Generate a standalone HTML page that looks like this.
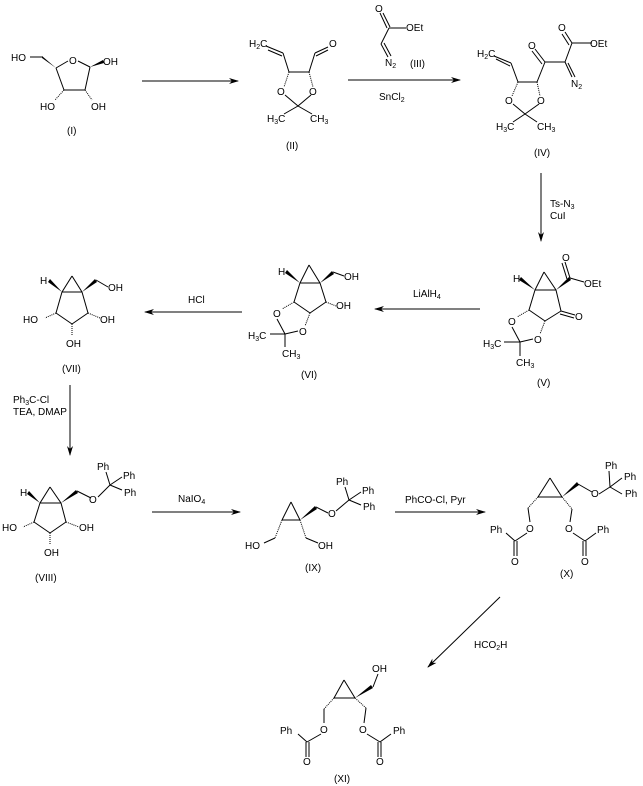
<!DOCTYPE html>
<html><head><meta charset="utf-8"><style>
html,body{margin:0;padding:0;background:#fff;}
svg{display:block;}
text{font-family:"Liberation Sans",sans-serif;font-size:10px;fill:#000;}
.s{font-size:7px;}
line,polyline,path{stroke:#000;stroke-width:1;fill:none;}
.w{fill:#000;stroke:none;}
</style></head><body>
<svg width="643" height="786" viewBox="0 0 643 786" xmlns="http://www.w3.org/2000/svg">
<defs><marker id="a" markerWidth="10" markerHeight="6" refX="9" refY="3" orient="auto" markerUnits="userSpaceOnUse"><path d="M0,0 L10,3 L0,6 L3,3 Z" class="w"/></marker></defs>

<!-- I -->
<text x="11" y="61">HO</text>
<line x1="30" y1="57" x2="42" y2="57"/>
<polygon class="w" points="42,56 42,58 56,68"/>
<line x1="56" y1="68" x2="68" y2="61"/>
<text x="69" y="64">O</text>
<line x1="78" y1="61" x2="90" y2="67"/>
<polygon class="w" points="90,67 103,60 104,63"/>
<text x="103" y="65">OH</text>
<line x1="56" y1="68" x2="64" y2="90"/>
<line x1="90" y1="67" x2="85" y2="90"/>
<line x1="64" y1="90" x2="85" y2="90"/>
<line x1="64" y1="90" x2="55" y2="100" stroke-dasharray="1,1"/>
<line x1="85" y1="90" x2="92" y2="100" stroke-dasharray="1,1"/>
<text x="40" y="110">HO</text>
<text x="91" y="110">OH</text>
<text x="67" y="134">(I)</text>
<line x1="142" y1="81" x2="238" y2="81" marker-end="url(#a)"/>

<!-- II -->
<text x="249" y="47">H<tspan class="s" dy="2">2</tspan><tspan dy="-2">C</tspan></text>
<line x1="266" y1="46" x2="283" y2="53"/><line x1="268" y1="50" x2="282" y2="56"/>
<line x1="283" y1="53" x2="289" y2="72"/>
<line x1="289" y1="72" x2="309" y2="72"/>
<line x1="309" y1="72" x2="315" y2="53"/>
<line x1="315" y1="53" x2="328" y2="47"/><line x1="316" y1="56" x2="328" y2="50"/>
<text x="329" y="47">O</text>
<line x1="289" y1="72" x2="284" y2="87" stroke-dasharray="1,1"/>
<line x1="309" y1="72" x2="313" y2="87" stroke-dasharray="1,1"/>
<text x="277" y="95">O</text><text x="309" y="95">O</text>
<line x1="285" y1="95" x2="298" y2="106"/><line x1="311" y1="95" x2="298" y2="106"/>
<line x1="298" y1="106" x2="284" y2="114"/><line x1="298" y1="106" x2="312" y2="114"/>
<text x="267" y="122">H<tspan class="s" dy="2">3</tspan><tspan dy="-2">C</tspan></text>
<text x="310" y="122">CH<tspan class="s" dy="2">3</tspan></text>
<text x="286" y="149">(II)</text>

<!-- III reagent -->
<text x="375" y="12">O</text>
<line x1="380" y1="13" x2="387" y2="28"/><line x1="383" y1="13" x2="390" y2="27"/>
<line x1="389" y1="28" x2="406" y2="28"/>
<text x="406" y="31">OEt</text>
<line x1="389" y1="28" x2="381" y2="44"/>
<line x1="381" y1="44" x2="388" y2="57"/><line x1="384" y1="43" x2="391" y2="56"/>
<text x="385" y="66">N<tspan class="s" dy="2">2</tspan></text>
<text x="410" y="67">(III)</text>
<line x1="348" y1="80" x2="460" y2="80" marker-end="url(#a)"/>
<text x="379" y="100">SnCl<tspan class="s" dy="2">2</tspan></text>

<!-- IV -->
<text x="477" y="57">H<tspan class="s" dy="2">2</tspan><tspan dy="-2">C</tspan></text>
<line x1="494" y1="56" x2="511" y2="63"/><line x1="496" y1="59" x2="510" y2="66"/>
<line x1="511" y1="63" x2="518" y2="82"/>
<line x1="518" y1="82" x2="537" y2="82"/>
<line x1="537" y1="82" x2="545" y2="62"/>
<line x1="545" y1="62" x2="565" y2="62"/>
<line x1="545" y1="62" x2="535" y2="49"/><line x1="542" y1="64" x2="532" y2="51"/>
<text x="528" y="49">O</text>
<line x1="565" y1="62" x2="572" y2="43"/>
<line x1="572" y1="43" x2="592" y2="43"/>
<text x="590" y="47">OEt</text>
<line x1="572" y1="43" x2="565" y2="32"/><line x1="569" y1="45" x2="562" y2="34"/>
<text x="558" y="31">O</text>
<line x1="565" y1="62" x2="572" y2="77"/><line x1="568" y1="63" x2="575" y2="77"/>
<text x="571" y="87">N<tspan class="s" dy="2">2</tspan></text>
<line x1="518" y1="82" x2="512" y2="96" stroke-dasharray="1,1"/>
<line x1="537" y1="82" x2="540" y2="96" stroke-dasharray="1,1"/>
<text x="505" y="104">O</text><text x="537" y="104">O</text>
<line x1="513" y1="104" x2="525" y2="114"/><line x1="539" y1="104" x2="525" y2="114"/>
<line x1="525" y1="114" x2="513" y2="122"/><line x1="525" y1="114" x2="537" y2="122"/>
<text x="496" y="130">H<tspan class="s" dy="2">3</tspan><tspan dy="-2">C</tspan></text>
<text x="537" y="130">CH<tspan class="s" dy="2">3</tspan></text>
<text x="534" y="156">(IV)</text>
<line x1="541" y1="173" x2="541" y2="241" marker-end="url(#a)"/>
<text x="550" y="207">Ts-N<tspan class="s" dy="2">3</tspan></text>
<text x="550" y="219">CuI</text>

<!-- V -->
<line x1="544" y1="272" x2="535" y2="290"/><line x1="544" y1="272" x2="556" y2="290"/><line x1="535" y1="290" x2="556" y2="290"/>
<polygon class="w" points="535,290 519,280 521,277"/>
<text x="513" y="282">H</text>
<polygon class="w" points="556,290 569,277 571,280"/>
<line x1="570" y1="278" x2="565" y2="262"/><line x1="567" y1="279" x2="562" y2="263"/>
<text x="562" y="261">O</text>
<line x1="570" y1="278" x2="584" y2="282"/>
<text x="584" y="287">OEt</text>
<line x1="535" y1="290" x2="529" y2="310"/><line x1="556" y1="290" x2="561" y2="311"/>
<line x1="529" y1="310" x2="545" y2="321"/><line x1="561" y1="311" x2="545" y2="321"/>
<line x1="561" y1="311" x2="575" y2="315"/><line x1="560" y1="314" x2="574" y2="318"/>
<text x="575" y="320">O</text>
<line x1="529" y1="310" x2="517" y2="317" stroke-dasharray="1,1"/>
<line x1="545" y1="321" x2="540" y2="334" stroke-dasharray="1,1"/>
<text x="508" y="325">O</text><text x="534" y="343">O</text>
<line x1="512" y1="327" x2="520" y2="342"/><line x1="533" y1="339" x2="520" y2="342"/>
<line x1="520" y1="342" x2="504" y2="342"/><line x1="520" y1="342" x2="520" y2="356"/>
<text x="483" y="347">H<tspan class="s" dy="2">3</tspan><tspan dy="-2">C</tspan></text>
<text x="516" y="366">CH<tspan class="s" dy="2">3</tspan></text>
<text x="537" y="386">(V)</text>
<line x1="480" y1="309" x2="375" y2="309" marker-end="url(#a)"/>
<text x="413" y="297">LiAlH<tspan class="s" dy="2">4</tspan></text>

<!-- VI -->
<line x1="309" y1="265" x2="300" y2="283"/><line x1="309" y1="265" x2="320" y2="283"/><line x1="300" y1="283" x2="320" y2="283"/>
<polygon class="w" points="300,283 285,273 287,270"/>
<text x="278" y="275">H</text>
<polygon class="w" points="320,283 332,271 334,274"/>
<line x1="333" y1="272" x2="344" y2="276"/>
<text x="344" y="280">OH</text>
<line x1="300" y1="283" x2="294" y2="302"/><line x1="320" y1="283" x2="326" y2="302"/>
<line x1="294" y1="302" x2="310" y2="313"/><line x1="326" y1="302" x2="310" y2="313"/>
<line x1="326" y1="302" x2="336" y2="306" stroke-dasharray="1,1"/>
<text x="336" y="309">OH</text>
<line x1="294" y1="302" x2="282" y2="309" stroke-dasharray="1,1"/>
<line x1="310" y1="313" x2="305" y2="326" stroke-dasharray="1,1"/>
<text x="273" y="317">O</text><text x="299" y="335">O</text>
<line x1="277" y1="319" x2="285" y2="334"/><line x1="298" y1="331" x2="285" y2="334"/>
<line x1="285" y1="334" x2="270" y2="334"/><line x1="285" y1="334" x2="285" y2="347"/>
<text x="248" y="339">H<tspan class="s" dy="2">3</tspan><tspan dy="-2">C</tspan></text>
<text x="282" y="357">CH<tspan class="s" dy="2">3</tspan></text>
<text x="301" y="378">(VI)</text>
<line x1="242" y1="312" x2="145" y2="312" marker-end="url(#a)"/>
<text x="188" y="303">HCl</text>

<!-- VII -->
<line x1="72" y1="276" x2="62" y2="292"/><line x1="72" y1="276" x2="82" y2="292"/><line x1="62" y1="292" x2="82" y2="292"/>
<polygon class="w" points="62,292 48,282 50,279"/>
<text x="40" y="284">H</text>
<polygon class="w" points="82,292 95,279 97,282"/>
<line x1="96" y1="280" x2="108" y2="287"/>
<text x="108" y="291">OH</text>
<line x1="62" y1="292" x2="56" y2="313"/><line x1="82" y1="292" x2="88" y2="313"/>
<line x1="56" y1="313" x2="72" y2="324"/><line x1="88" y1="313" x2="72" y2="324"/>
<line x1="56" y1="313" x2="45" y2="318" stroke-dasharray="1,1"/>
<line x1="88" y1="313" x2="100" y2="318" stroke-dasharray="1,1"/>
<line x1="72" y1="324" x2="72" y2="336" stroke-dasharray="1,1"/>
<text x="23" y="323">HO</text><text x="100" y="323">OH</text><text x="66" y="347">OH</text>
<text x="62" y="372">(VII)</text>
<line x1="70" y1="385" x2="70" y2="455" marker-end="url(#a)"/>
<text x="13" y="403">Ph<tspan class="s" dy="2">3</tspan><tspan dy="-2">C-Cl</tspan></text>
<text x="13" y="415">TEA, DMAP</text>

<!-- VIII -->
<line x1="50" y1="487" x2="40" y2="503"/><line x1="50" y1="487" x2="61" y2="503"/><line x1="40" y1="503" x2="61" y2="503"/>
<polygon class="w" points="40,503 27,494 29,491"/>
<text x="20" y="496">H</text>
<polygon class="w" points="61,503 76,490 78,493"/>
<line x1="77" y1="491" x2="91" y2="498"/>
<text x="89" y="503">O</text>
<line x1="98" y1="497" x2="110" y2="485"/>
<line x1="110" y1="485" x2="106" y2="472"/><line x1="110" y1="485" x2="122" y2="477"/><line x1="110" y1="485" x2="122" y2="490"/>
<text x="97" y="470">Ph</text><text x="123" y="479">Ph</text><text x="124" y="496">Ph</text>
<line x1="40" y1="503" x2="34" y2="522"/><line x1="61" y1="503" x2="66" y2="522"/>
<line x1="34" y1="522" x2="50" y2="533"/><line x1="66" y1="522" x2="50" y2="533"/>
<line x1="34" y1="522" x2="23" y2="527" stroke-dasharray="1,1"/>
<line x1="66" y1="522" x2="79" y2="527" stroke-dasharray="1,1"/>
<line x1="50" y1="533" x2="50" y2="545" stroke-dasharray="1,1"/>
<text x="2" y="531">HO</text><text x="79" y="531">OH</text><text x="44" y="556">OH</text>
<text x="35" y="581">(VIII)</text>
<line x1="152" y1="512" x2="240" y2="512" marker-end="url(#a)"/>
<text x="178" y="502">NaIO<tspan class="s" dy="2">4</tspan></text>

<!-- IX -->
<line x1="291" y1="502" x2="282" y2="520"/><line x1="291" y1="502" x2="300" y2="520"/><line x1="282" y1="520" x2="300" y2="520"/>
<polygon class="w" points="300,520 315,506 317,509"/>
<line x1="316" y1="507" x2="328" y2="513"/>
<text x="328" y="517">O</text>
<line x1="336" y1="511" x2="349" y2="500"/>
<line x1="349" y1="500" x2="345" y2="487"/><line x1="349" y1="500" x2="361" y2="492"/><line x1="349" y1="500" x2="361" y2="505"/>
<text x="336" y="485">Ph</text><text x="362" y="494">Ph</text><text x="363" y="510">Ph</text>
<line x1="282" y1="520" x2="275" y2="538" stroke-dasharray="1,1"/>
<line x1="275" y1="538" x2="264" y2="543"/>
<text x="245" y="549">HO</text>
<line x1="300" y1="520" x2="306" y2="538" stroke-dasharray="1,1"/>
<line x1="306" y1="538" x2="318" y2="543"/>
<text x="318" y="549">OH</text>
<text x="305" y="571">(IX)</text>
<line x1="395" y1="512" x2="485" y2="512" marker-end="url(#a)"/>
<text x="405" y="503">PhCO-Cl, Pyr</text>

<!-- X -->
<line x1="550" y1="478" x2="538" y2="497"/><line x1="550" y1="478" x2="562" y2="497"/><line x1="538" y1="497" x2="562" y2="497"/>
<polygon class="w" points="562,497 577,482 579,485"/>
<line x1="578" y1="484" x2="592" y2="492"/>
<text x="591" y="497">O</text>
<line x1="599" y1="494" x2="610" y2="487"/>
<line x1="610" y1="487" x2="609" y2="471"/><line x1="610" y1="487" x2="622" y2="478"/><line x1="610" y1="487" x2="622" y2="494"/>
<text x="605" y="469">Ph</text><text x="624" y="480">Ph</text><text x="625" y="497">Ph</text>
<line x1="538" y1="497" x2="528" y2="508" stroke-dasharray="1,1"/>
<line x1="528" y1="508" x2="530" y2="522"/>
<text x="526" y="532">O</text>
<line x1="527" y1="533" x2="515" y2="541"/>
<line x1="515" y1="541" x2="506" y2="533"/>
<text x="490" y="533">Ph</text>
<line x1="514" y1="541" x2="514" y2="556"/><line x1="517" y1="541" x2="517" y2="556"/>
<text x="511" y="565">O</text>
<line x1="562" y1="497" x2="572" y2="509" stroke-dasharray="1,1"/>
<line x1="572" y1="509" x2="570" y2="522"/>
<text x="565" y="532">O</text>
<line x1="573" y1="533" x2="585" y2="541"/>
<line x1="585" y1="541" x2="596" y2="533"/>
<text x="597" y="533">Ph</text>
<line x1="583" y1="541" x2="583" y2="556"/><line x1="586" y1="541" x2="586" y2="556"/>
<text x="581" y="565">O</text>
<text x="560" y="577">(X)</text>
<line x1="500" y1="597" x2="428" y2="667" marker-end="url(#a)"/>
<text x="474" y="648">HCO<tspan class="s" dy="2">2</tspan><tspan dy="-2">H</tspan></text>

<!-- XI -->
<text x="372" y="672">OH</text>
<line x1="378" y1="674" x2="373" y2="687"/>
<polygon class="w" points="355,698 371,685 373,688"/>
<line x1="344" y1="680" x2="334" y2="698"/><line x1="344" y1="680" x2="355" y2="698"/><line x1="334" y1="698" x2="355" y2="698"/>
<line x1="334" y1="698" x2="324" y2="709" stroke-dasharray="1,1"/>
<line x1="324" y1="709" x2="324" y2="723"/>
<text x="320" y="733">O</text>
<line x1="321" y1="734" x2="307" y2="742"/>
<line x1="307" y1="742" x2="298" y2="734"/>
<text x="280" y="734">Ph</text>
<line x1="306" y1="742" x2="306" y2="757"/><line x1="309" y1="742" x2="309" y2="757"/>
<text x="303" y="765">O</text>
<line x1="355" y1="698" x2="366" y2="708" stroke-dasharray="1,1"/>
<line x1="366" y1="708" x2="364" y2="723"/>
<text x="359" y="733">O</text>
<line x1="367" y1="734" x2="380" y2="742"/>
<line x1="380" y1="742" x2="391" y2="734"/>
<text x="393" y="734">Ph</text>
<line x1="378" y1="742" x2="378" y2="757"/><line x1="381" y1="742" x2="381" y2="757"/>
<text x="376" y="765">O</text>
<text x="334" y="782">(XI)</text>
</svg>
</body></html>
